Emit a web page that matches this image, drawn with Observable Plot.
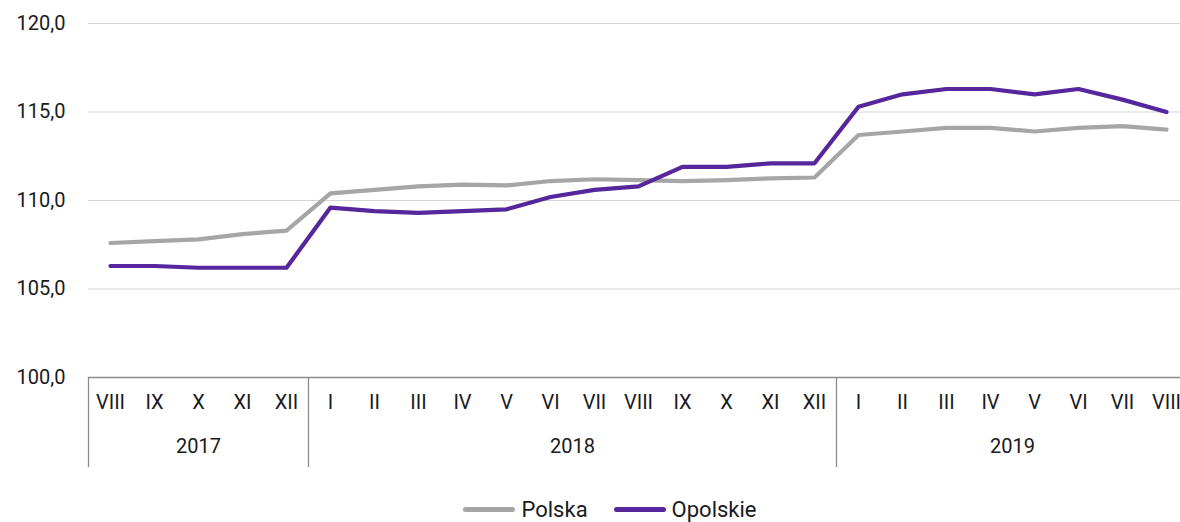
<!DOCTYPE html>
<html><head><meta charset="utf-8">
<script src="https://cdn.jsdelivr.net/npm/d3@7"></script>
<script src="https://cdn.jsdelivr.net/npm/@observablehq/plot@0.6"></script>
<style>
body{margin:0;background:#fff;font-family:Roboto,"Noto Sans",sans-serif;color:#1a1a1a;}
#chart svg{display:block;overflow:hidden;}
#legend{position:relative;height:40px;display:flex;justify-content:center;align-items:center;font-size:22px;margin-left:40px;margin-top:14px;}
.item{display:flex;align-items:center;margin:0 13px;}
.sw{width:52px;height:5px;border-radius:3px;margin-right:6px;}
</style></head><body>
<div id="chart"></div>
<div id="legend"></div>
<script>
const months = ["VIII","IX","X","XI","XII","I","II","III","IV","V","VI","VII","VIII","IX","X","XI","XII","I","II","III","IV","V","VI","VII","VIII"];
const yearLabels = ["2017","2018","2019"];
const yearCounts = [5,12,8];
const polska = [107.6,107.7,107.8,108.1,108.3,110.4,110.6,110.8,110.9,110.85,111.1,111.2,111.15,111.1,111.15,111.25,111.3,113.7,113.9,114.1,114.1,113.9,114.1,114.2,114.0];
const opolskie = [106.3,106.3,106.2,106.2,106.2,109.6,109.4,109.3,109.4,109.5,110.2,110.6,110.8,111.9,111.9,112.1,112.1,115.3,116.0,116.3,116.3,116.0,116.3,115.7,115.0];
const seriesNames = ["Polska","Opolskie"];
const seriesColors = ["#a6a6a6","#55269c"];
const yTicks = [100,105,110,115,120];

const rows = [];
[polska, opolskie].forEach((arr, s) => arr.forEach((v, i) => rows.push({i, v, s: seriesNames[s]})));
const monthRows = months.map((m, i) => ({i, m}));
let acc = 0;
const yearRows = yearLabels.map((y, k) => { const start = acc; acc += yearCounts[k]; return {y, center: start + (yearCounts[k]-1)/2, start: start - 0.5}; });

const W = 1180, ML = 88, band = 44;
const xmax = -0.5 + (W - ML) / band;
const fmt = d => d.toFixed(1).replace(".", ",");

const chart = Plot.plot({
  width: W, height: 475,
  marginTop: 23, marginBottom: 98, marginLeft: ML, marginRight: 0,
  style: {fontFamily: "Roboto, sans-serif", fontSize: "20px", color: "#1a1a1a", background: "#fff"},
  x: {type: "linear", domain: [-0.5, xmax], axis: null, label: null},
  y: {domain: [100, 120], axis: null, label: null},
  color: {domain: seriesNames, range: seriesColors},
  marks: [
    Plot.gridY(yTicks.slice(1), {stroke: "#d4d4d4", strokeOpacity: 1}),
    Plot.ruleY([yTicks[0]], {stroke: "#8c8c8c", strokeWidth: 1.3}),
    Plot.axisY(yTicks, {tickSize: 0, tickPadding: 23, tickFormat: fmt, fontSize: 20, fill: "#1a1a1a", label: null}),
    Plot.ruleX(yearRows, {x: "start", y1: yTicks[0], y2: yTicks[0], insetBottom: -90, stroke: "#8c8c8c", strokeWidth: 1.3}),
    Plot.text(monthRows, {x: "i", text: "m", frameAnchor: "bottom", dy: 31, fontSize: 20, fill: "#1a1a1a"}),
    Plot.text(yearRows, {x: "center", text: "y", frameAnchor: "bottom", dy: 75, fontSize: 20, fill: "#1a1a1a"}),
    Plot.line(rows, {x: "i", y: "v", z: "s", stroke: "s", strokeWidth: 4.2, strokeLinejoin: "round", strokeLinecap: "round"})
  ]
});
document.getElementById("chart").append(chart);

const lg = document.getElementById("legend");
seriesNames.forEach((n, k) => {
  const it = document.createElement("div"); it.className = "item";
  const sw = document.createElement("div"); sw.className = "sw"; sw.style.background = seriesColors[k];
  const t = document.createElement("span"); t.textContent = n;
  it.append(sw, t); lg.append(it);
});
</script>
</body></html>
